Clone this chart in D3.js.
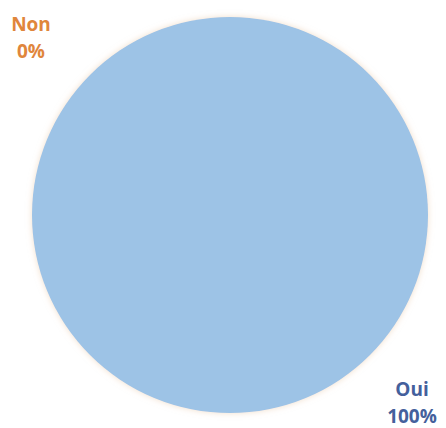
<!DOCTYPE html>
<html>
<head>
<meta charset="utf-8">
<script src="https://cdn.jsdelivr.net/npm/d3@7"></script>
<style>
  body { margin: 0; background: white; }
</style>
</head>
<body>
<div id="container"></div>
<script>
/* DATA */
const categories = ["Oui", "Non"]
const values = [100, 0]
const colors = ["#9dc3e6", "#ed7d31"]
const labelColors = ["#44609c", "#e0863c"]

/* CONSTANTS */
const width = 446
const height = 428
const cx = 230, cy = 215, radius = 198

const svg = d3.select("#container")
  .append("svg")
  .attr("width", width)
  .attr("height", height)
  .style("background-color", "white")

// soft glow around the pie
const defs = svg.append("defs")
const f = defs.append("filter").attr("id", "glow")
  .attr("x", "-10%").attr("y", "-10%").attr("width", "120%").attr("height", "120%")
f.append("feGaussianBlur").attr("in", "SourceAlpha").attr("stdDeviation", 3).attr("result", "b")
f.append("feFlood").attr("flood-color", "#e8c9a8").attr("flood-opacity", 0.6)
f.append("feComposite").attr("in2", "b").attr("operator", "in").attr("result", "s")
const m = f.append("feMerge")
m.append("feMergeNode").attr("in", "s")
m.append("feMergeNode").attr("in", "SourceGraphic")

const data = categories.map((c, i) => ({cat: c, value: values[i], color: colors[i], lc: labelColors[i]}))

const pie = d3.pie().value(d => d.value).sort(null)
const arc = d3.arc().innerRadius(0).outerRadius(radius)

const g = svg.append("g").attr("transform", `translate(${cx},${cy})`)

g.selectAll("path")
  .data(pie(data))
  .join("path")
  .attr("d", arc)
  .attr("fill", d => d.data.color)
  .attr("filter", "url(#glow)")

// labels (placed outside: Oui bottom right, Non top left)
const labelPos = {"Oui": [412, 389], "Non": [31, 24]}

data.forEach(d => {
  const [x, y] = labelPos[d.cat]
  const t = svg.append("text")
    .attr("x", x).attr("y", y)
    .attr("text-anchor", "middle")
    .attr("font-family", "Open Sans, Liberation Sans, sans-serif")
    .attr("font-weight", "bold")
    .attr("font-size", 19)
    .attr("fill", d.lc)
  t.append("tspan").attr("x", x).attr("dy", "0.35em").text(d.cat)
  t.append("tspan").attr("x", x).attr("dy", "1.42em").text(d.value + "%")
})
</script>
</body>
</html>
